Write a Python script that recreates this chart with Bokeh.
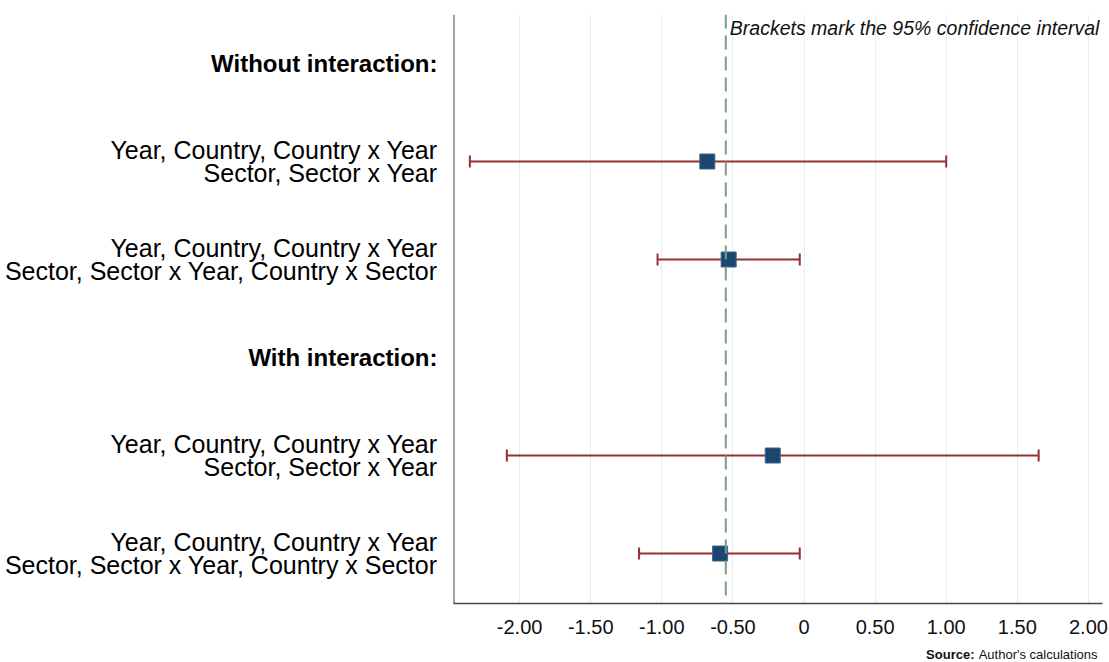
from bokeh.plotting import figure
from bokeh.layouts import row, column
from bokeh.models import ColumnDataSource, Span, Label, Whisker, TeeHead, FixedTicker, Range1d
from bokeh.embed import file_html
from bokeh.resources import INLINE
from bokeh.core.properties import value

# ---- data ----
row_labels = [
    "Without interaction:",
    "Year, Country, Country x Year\nSector, Sector x Year",
    "Year, Country, Country x Year\nSector, Sector x Year, Country x Sector",
    "With interaction:",
    "Year, Country, Country x Year\nSector, Sector x Year",
    "Year, Country, Country x Year\nSector, Sector x Year, Country x Sector",
]
is_header = [True, False, False, True, False, False]
estimates = [None, -0.68, -0.53, None, -0.22, -0.59]
ci_low = [None, -2.35, -1.03, None, -2.09, -1.16]
ci_high = [None, 1.00, -0.03, None, 1.65, -0.03]
ref_value = -0.55
x_ticks = [-2.0, -1.5, -1.0, -0.5, 0.0, 0.5, 1.0, 1.5, 2.0]
x_tick_labels = ["-2.00", "-1.50", "-1.00", "-0.50", "0", "0.50", "1.00", "1.50", "2.00"]
note_text = "Brackets mark the 95% confidence interval"
source_bold = "Source:"
source_text = "Author's calculations"

FONT = "Liberation Sans"
n = len(row_labels)
ypos = [n - i for i in range(n)]

x_start, x_end = -2.465, 2.099
y_start, y_end = 0.49, 6.5
yr = Range1d(y_start, y_end)

H = 646
TOP = 14
BOTTOM = 43

# ---- left label panel ----
left = figure(width=453, height=H, x_range=Range1d(0, 1), y_range=yr,
              x_axis_location=None, y_axis_location=None,
              toolbar_location=None, output_backend="svg",
              min_border_left=0, min_border_right=0,
              min_border_top=TOP, min_border_bottom=BOTTOM,
              outline_line_color=None)
left.xgrid.visible = False
left.ygrid.visible = False

hdr = ColumnDataSource(dict(
    x=[1.0 for h in is_header if h],
    y=[y for y, h in zip(ypos, is_header) if h],
    t=[l for l, h in zip(row_labels, is_header) if h]))
reg = ColumnDataSource(dict(
    x=[1.0 for h in is_header if not h],
    y=[y for y, h in zip(ypos, is_header) if not h],
    t=[l for l, h in zip(row_labels, is_header) if not h]))

left.text(x="x", y="y", text="t", source=hdr, x_offset=-16,
          text_align="right", text_baseline="middle",
          text_font=value(FONT), text_font_size="24px", text_font_style="bold",
          text_color="#000000")
left.text(x="x", y="y", text="t", source=reg, x_offset=-16,
          text_align="right", text_baseline="middle",
          text_font=value(FONT), text_font_size="25px",
          text_line_height=0.82, text_color="#000000")

# ---- main plot ----
p = figure(width=656, height=H, x_range=Range1d(x_start, x_end), y_range=yr,
           y_axis_location=None, toolbar_location=None, output_backend="svg",
           min_border_left=0, min_border_right=7,
           min_border_top=TOP, min_border_bottom=BOTTOM,
           outline_line_color=None)

p.xaxis.ticker = FixedTicker(ticks=x_ticks)
p.xaxis.major_label_overrides = {t: l for t, l in zip(x_ticks, x_tick_labels)}
p.xaxis.major_tick_in = 0
p.xaxis.major_tick_out = 0
p.xaxis.minor_tick_in = 0
p.xaxis.minor_tick_out = 0
p.xaxis.axis_line_color = "#444444"
p.xaxis.axis_line_width = 1.5
p.xaxis.major_label_standoff = 16
p.xaxis.major_label_text_font = FONT
p.xaxis.major_label_text_font_size = "20px"
p.xaxis.major_label_text_color = "#111111"

p.xgrid.ticker = FixedTicker(ticks=x_ticks)
p.xgrid.grid_line_color = "#e4edf0"
p.xgrid.grid_line_width = 1
p.ygrid.visible = False

# left axis line
p.add_layout(Span(location=x_start, dimension="height",
                  line_color="#444444", line_width=2))

# reference dashed line
p.add_layout(Span(location=ref_value, dimension="height",
                  line_color="#7a9c8c", line_width=2, line_dash="14 7"))

est = ColumnDataSource(dict(
    y=[y for y, h in zip(ypos, is_header) if not h],
    est=[e for e, h in zip(estimates, is_header) if not h],
    lo=[v for v, h in zip(ci_low, is_header) if not h],
    hi=[v for v, h in zip(ci_high, is_header) if not h]))

CI_COLOR = "#972f37"
p.add_layout(Whisker(source=est, base="y", lower="lo", upper="hi", dimension="width",
                     line_color=CI_COLOR, line_width=2,
                     lower_head=TeeHead(size=12, line_color=CI_COLOR, line_width=2),
                     upper_head=TeeHead(size=12, line_color=CI_COLOR, line_width=2)))

p.scatter(x="est", y="y", source=est, marker="square", size=15,
          fill_color="#1a476f", line_color="#3d6588", line_width=1)

p.add_layout(Label(x=ref_value, y=y_end, x_offset=4, y_offset=-13,
                   text=note_text, text_align="left", text_baseline="middle",
                   text_font=FONT, text_font_size="19.5px", text_font_style="italic",
                   text_color="#111111"))

# ---- source line ----
src = figure(width=1109, height=16, x_range=Range1d(0, 1), y_range=Range1d(0, 1),
             x_axis_location=None, y_axis_location=None,
             toolbar_location=None, output_backend="svg",
             min_border=0, outline_line_color=None)
src.xgrid.visible = False
src.ygrid.visible = False
src.text(x=[1.0], y=[0.5], text=[source_text], x_offset=-12,
         text_align="right", text_baseline="middle",
         text_font=value(FONT), text_font_size="13px", text_color="#111111")
src.text(x=[1.0], y=[0.5], text=[source_bold], x_offset=-135,
         text_align="right", text_baseline="middle",
         text_font=value(FONT), text_font_size="13px", text_font_style="bold",
         text_color="#111111")

layout = column(row(left, p), src)
open("out.html", "w").write(file_html(layout, INLINE))
